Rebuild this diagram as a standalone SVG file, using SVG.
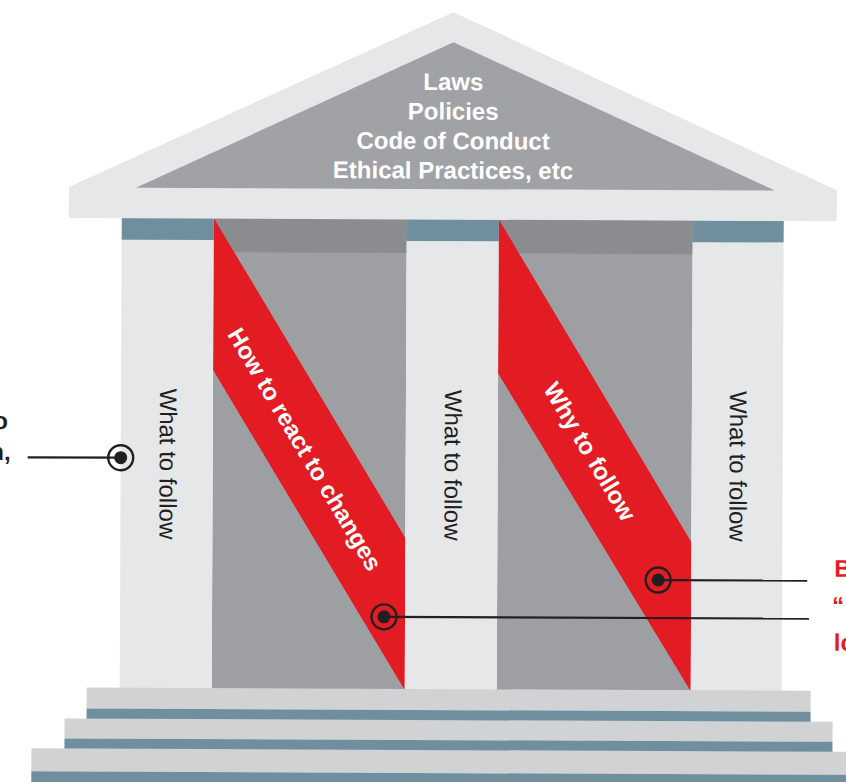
<svg xmlns="http://www.w3.org/2000/svg" width="846" height="782" viewBox="0 0 846 782">
<defs>
<style>
.light{fill:#e6e7e8}
.bay{fill:#9d9fa2}
.baytop{fill:#8b8c8f}
.cap{fill:#708f9e}
.red{fill:#e31b23}
.step{fill:#d1d2d4}
.stepb{fill:#708f9e}
.roofin{fill:#a1a2a5}
.rt{font-family:"Liberation Sans",Arial,sans-serif;font-weight:bold;font-size:24px;fill:#ffffff;text-anchor:middle}
.ct{font-family:"Liberation Sans",Arial,sans-serif;font-size:24px;fill:#231f20;text-anchor:middle}
.lt{font-family:"Liberation Sans",Arial,sans-serif;font-weight:bold;font-size:24px;fill:#231f20}
.rl{font-family:"Liberation Sans",Arial,sans-serif;font-weight:bold;font-size:24px;fill:#e31b23}
.ln{stroke:#231f20;stroke-width:2.2;fill:none}
.ring{stroke:#231f20;stroke-width:2.4;fill:none}
.dot{fill:#231f20}
</style>
</defs>
<rect width="846" height="782" fill="#ffffff"/>
<g transform="rotate(0.25 423 391)">
<g id="bays">
<rect class="bay" x="213" y="219" width="193" height="471"/>
<rect class="baytop" x="213" y="219" width="193" height="34"/>
<rect class="bay" x="498" y="219" width="194" height="471"/>
<rect class="baytop" x="498" y="219" width="194" height="34"/>
</g>
<g id="band-how">
<polygon class="red" points="213,219 406,538 406,690 213,371"/>
<text class="rt" transform="translate(298,454) rotate(59)">How to react to changes</text>
</g>
<g id="band-why">
<polygon class="red" points="498,219 692,541 692,690 498,373"/>
<text class="rt" transform="translate(583,455) rotate(59)">Why to follow</text>
</g>
<g id="column-1">
<rect class="light" x="121" y="241" width="92" height="449"/>
<rect class="cap" x="121" y="219" width="92" height="22"/>
<text class="ct" transform="translate(160,465) rotate(90)">What to follow</text>
</g>
<g id="column-2">
<rect class="light" x="406" y="241" width="92" height="449"/>
<rect class="cap" x="406" y="219" width="92" height="22"/>
<text class="ct" transform="translate(445,465) rotate(90)">What to follow</text>
</g>
<g id="column-3">
<rect class="light" x="692" y="241" width="91" height="449"/>
<rect class="cap" x="692" y="219" width="91" height="22"/>
<text class="ct" transform="translate(730,465) rotate(90)">What to follow</text>
</g>
<g id="roof">
<polygon class="light" points="68,188.5 452,12 836,188.5"/>
<rect class="light" x="68" y="188" width="768" height="31.5"/>
<polygon class="roofin" points="135,189 452,42 774,189"/>
<text class="rt" x="452" y="90">Laws</text>
<text class="rt" x="452" y="119.5">Policies</text>
<text class="rt" x="452" y="149">Code of Conduct</text>
<text class="rt" x="452" y="178.5">Ethical Practices, etc</text>
</g>
<g id="steps">
<rect class="step" x="88" y="689" width="724" height="21"/>
<rect class="stepb" x="88" y="710" width="724" height="11"/>
<rect class="step" x="66" y="720" width="768" height="20"/>
<rect class="stepb" x="66" y="740" width="768" height="11"/>
<rect class="step" x="33" y="750" width="830" height="23"/>
<rect class="stepb" x="33" y="773" width="830" height="14"/>
</g>
<g id="label-left">
<text class="lt" x="8" y="431" text-anchor="end">o</text>
<text class="lt" x="11" y="462" text-anchor="end">n,</text>
</g>
<g id="label-right">
<text class="rl" x="835" y="575">B</text>
<text class="rl" x="833" y="612">“</text>
<text class="rl" x="835" y="649">lo</text>
</g>
<g id="connectors">
<line class="ln" x1="28" y1="459" x2="121" y2="459"/>
<circle class="ring" cx="121" cy="459" r="12.5"/>
<circle class="dot" cx="121" cy="459" r="6.5"/>
<line class="ln" x1="659" y1="579" x2="808" y2="579"/>
<circle class="ring" cx="659" cy="579" r="12.5"/>
<circle class="dot" cx="659" cy="579" r="6.5"/>
<line class="ln" x1="385" y1="617" x2="810" y2="617"/>
<circle class="ring" cx="385" cy="617" r="12.5"/>
<circle class="dot" cx="385" cy="617" r="6.5"/>
</g>
</g>
</svg>
